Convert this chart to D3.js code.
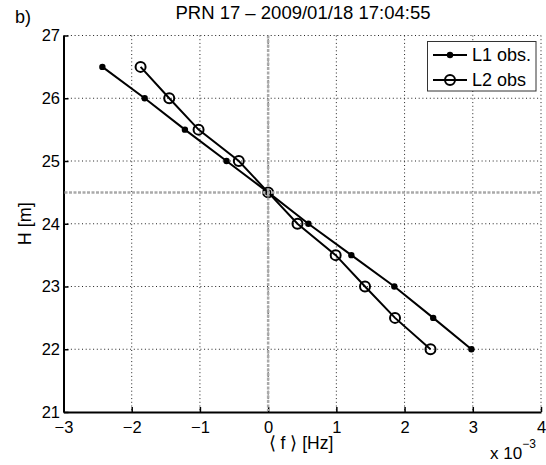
<!DOCTYPE html>
<html>
<head>
<meta charset="utf-8">
<script src="https://cdn.jsdelivr.net/npm/d3@7"></script>
<style>
  body { margin: 0; background: #fff; }
  text { font-family: "Liberation Sans", Arial, Helvetica, sans-serif; fill: #000; }
</style>
</head>
<body>
<svg id="chart" width="546" height="465"></svg>
<script>
// --- Data (frequency in units of 1e-3 Hz) ---
const heights = [26.5, 26, 25.5, 25, 24.5, 24, 23.5, 23, 22.5, 22];
const l1Freq = [-2.43, -1.81, -1.22, -0.61, 0, 0.59, 1.22, 1.85, 2.42, 2.98];
const l2Freq = [-1.87, -1.45, -1.02, -0.43, 0, 0.43, 0.99, 1.42, 1.86, 2.38];
const xTicks = [-3, -2, -1, 0, 1, 2, 3, 4];
const yTicks = [21, 22, 23, 24, 25, 26, 27];
const refX = 0, refY = 24.5;

const svg = d3.select("#chart");
const box = { left: 63.5, right: 541, top: 35.5, bottom: 412 };

const x = d3.scaleLinear().domain([-3, 4]).range([box.left, box.right]);
const y = d3.scaleLinear().domain([21, 27]).range([box.bottom, box.top]);

// grid (dotted)
const grid = svg.append("g")
  .attr("stroke", "#222").attr("stroke-width", 1).attr("stroke-dasharray", "1,2.7");
grid.selectAll("line.gx").data(xTicks.slice(1)).join("line")
  .attr("x1", d => x(d)).attr("x2", d => x(d))
  .attr("y1", box.top).attr("y2", box.bottom);
grid.selectAll("line.gy").data(yTicks.slice(1)).join("line")
  .attr("y1", d => y(d)).attr("y2", d => y(d))
  .attr("x1", box.left).attr("x2", box.right);

// axes
const fmt = d3.format("d");
const xAxis = svg.append("g")
  .attr("transform", `translate(0,${box.bottom})`)
  .call(d3.axisBottom(x).tickValues(xTicks).tickFormat(fmt)
    .tickSize(-5).tickSizeOuter(0).tickPadding(9));
const yAxis = svg.append("g")
  .attr("transform", `translate(${box.left},0)`)
  .call(d3.axisLeft(y).tickValues(yTicks).tickFormat(fmt)
    .tickSize(-5).tickSizeOuter(0).tickPadding(3.5));
[xAxis, yAxis].forEach(a => {
  a.select(".domain").attr("stroke", "#000").attr("stroke-width", 2);
  a.selectAll(".tick line").attr("stroke", "#000").attr("stroke-width", 1.5);
  a.selectAll(".tick text").style("font-size", "16.5px").attr("fill", "#000");
});

// data lines
const line = d3.line().x(d => x(d[0])).y(d => y(d[1]));
const l1 = l1Freq.map((f, i) => [f, heights[i]]);
const l2 = l2Freq.map((f, i) => [f, heights[i]]);

svg.append("path").datum(l1).attr("d", line)
  .attr("fill", "none").attr("stroke", "#000").attr("stroke-width", 2);
svg.append("path").datum(l2).attr("d", line)
  .attr("fill", "none").attr("stroke", "#000").attr("stroke-width", 2);

svg.append("g").selectAll("circle").data(l1).join("circle")
  .attr("cx", d => x(d[0])).attr("cy", d => y(d[1])).attr("r", 3.2)
  .attr("fill", "#000");
svg.append("g").selectAll("circle").data(l2).join("circle")
  .attr("cx", d => x(d[0])).attr("cy", d => y(d[1])).attr("r", 5)
  .attr("fill", "none").attr("stroke", "#000").attr("stroke-width", 2);

// gray reference lines
const ref = svg.append("g")
  .attr("stroke", "#aaa").attr("stroke-width", 2.5).attr("stroke-dasharray", "3,1.5");
ref.append("line").attr("x1", x(refX)).attr("x2", x(refX)).attr("y1", box.top).attr("y2", box.bottom - 1);
ref.append("line").attr("x1", box.left + 1).attr("x2", box.right).attr("y1", y(refY)).attr("y2", y(refY));

// legend
const leg = svg.append("g");
leg.append("rect").attr("x", 427.5).attr("y", 41.5).attr("width", 108.5).attr("height", 49.5)
  .attr("fill", "#fff").attr("stroke", "#333").attr("stroke-width", 1);
const legItems = [
  { label: "L1 obs.", filled: true, ly: 55 },
  { label: "L2 obs", filled: false, ly: 80 }
];
legItems.forEach(it => {
  leg.append("line").attr("x1", 433).attr("x2", 467).attr("y1", it.ly).attr("y2", it.ly)
    .attr("stroke", "#000").attr("stroke-width", 2);
  if (it.filled) {
    leg.append("circle").attr("cx", 450).attr("cy", it.ly).attr("r", 3.2).attr("fill", "#000");
  } else {
    leg.append("circle").attr("cx", 450).attr("cy", it.ly).attr("r", 5)
      .attr("fill", "none").attr("stroke", "#000").attr("stroke-width", 2);
  }
  leg.append("text").attr("x", 472).attr("y", it.ly).attr("dy", "0.36em")
    .style("font-size", "18px").text(it.label);
});

// titles and labels
svg.append("text").attr("x", 303).attr("y", 19).attr("text-anchor", "middle")
  .style("font-size", "18.5px").text("PRN 17 \u2013 2009/01/18 17:04:55");
svg.append("text").attr("x", 15).attr("y", 23).style("font-size", "18px").text("b)");
svg.append("text").attr("x", 301).attr("y", 449).attr("text-anchor", "middle")
  .style("font-size", "17.5px").text("\u27E8 f \u27E9 [Hz]");
svg.append("text")
  .attr("transform", `translate(31,${(box.top + box.bottom) / 2}) rotate(-90)`)
  .attr("text-anchor", "middle").style("font-size", "18px").text("H [m]");
const exp = svg.append("text").attr("x", 490).attr("y", 459).style("font-size", "17px");
exp.append("tspan").text("x 10");
exp.append("tspan").attr("dy", -11).style("font-size", "12px").text("\u22123");
</script>
</body>
</html>
